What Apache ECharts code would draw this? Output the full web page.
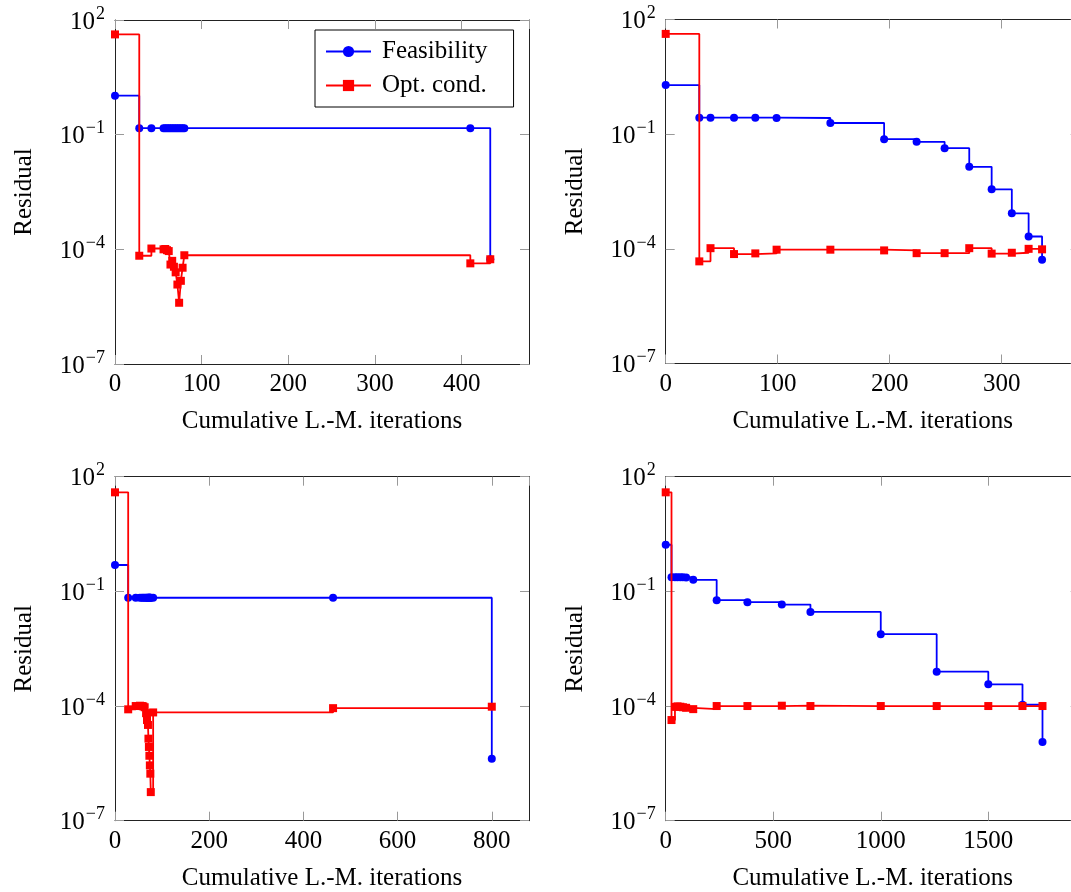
<!DOCTYPE html>
<html><head><meta charset="utf-8">
<script src="https://cdn.jsdelivr.net/npm/echarts@6/dist/echarts.min.js"></script>
<style>html,body{margin:0;padding:0;background:#fff}#c{width:1071px;height:892px}</style>
</head><body><div id="c"></div>
<script>
// ---------- data ----------
const seriesNames = ['Feasibility', 'Opt. cond.'];

// Panel A (top-left)
const xA    = [0, 28, 42, 56, 58, 60, 62, 64, 66, 68, 70, 72, 74, 76, 78, 80, 410, 433];
const feasA = [1.05, 0.148, 0.148, 0.148, 0.148, 0.148, 0.148, 0.148, 0.148, 0.148, 0.148, 0.148, 0.148, 0.148, 0.148, 0.148, 0.148, 5.5e-5];
const optA  = [42, 6.8e-5, 1.05e-4, 1.0e-4, 1.02e-4, 9.5e-5, 9.0e-5, 4.0e-5, 5.0e-5, 3.5e-5, 2.5e-5, 1.2e-5, 4.0e-6, 1.5e-5, 3.3e-5, 7.0e-5, 4.3e-5, 5.5e-5];

// Panel B (top-right)
const xB    = [0, 30, 40, 61, 80, 99, 147, 195, 224, 249, 271, 291, 309, 324, 336];
const feasB = [1.93, 0.27, 0.27, 0.27, 0.27, 0.265, 0.196, 0.074, 0.063, 0.043, 0.014, 0.0036, 8.5e-4, 2.1e-4, 5.2e-5];
const optB  = [42, 4.7e-5, 1.04e-4, 7.3e-5, 7.6e-5, 9.5e-5, 9.5e-5, 9.1e-5, 7.7e-5, 7.7e-5, 1.04e-4, 7.5e-5, 7.9e-5, 1.0e-4, 9.7e-5];

// Panel C (bottom-left)
const xC    = [0, 28, 44, 53, 57, 60, 63, 66, 68, 70, 71, 72, 73, 74, 75, 76, 81, 463, 800];
const feasC = [0.49, 0.068, 0.068, 0.068, 0.068, 0.068, 0.068, 0.068, 0.068, 0.068, 0.068, 0.068, 0.068, 0.068, 0.068, 0.068, 0.068, 0.068, 4.2e-6];
const optC  = [39, 8.2e-5, 1.0e-4, 1.02e-4, 1.0e-4, 9.8e-5, 9.3e-5, 6.5e-5, 4.3e-5, 3.2e-5, 1.4e-5, 8.5e-6, 5.0e-6, 2.8e-6, 1.7e-6, 5.6e-7, 6.8e-5, 8.8e-5, 9.6e-5];

// Panel D (bottom-right)
const xD    = [0, 27, 43, 55, 68, 80, 95, 128, 237, 380, 540, 673, 1000, 1260, 1500, 1659, 1752];
const feasD = [1.66, 0.235, 0.235, 0.235, 0.235, 0.235, 0.232, 0.2, 0.059, 0.052, 0.045, 0.029, 0.0076, 7.9e-4, 3.7e-4, 1.08e-4, 1.15e-5];
const optD  = [39, 4.3e-5, 9.5e-5, 9.8e-5, 9.6e-5, 9.3e-5, 9.0e-5, 8.3e-5, 1.0e-4, 1.0e-4, 1.02e-4, 1.0e-4, 1.0e-4, 1.0e-4, 1.0e-4, 1.0e-4, 1.0e-4];

// axis settings
const yMin = 1e-7, yMax = 1e2, yLogStep = 3;
const xMaxes = [477.7, 369.6, 879, 1925];
const xSteps = [100, 100, 200, 500];
const xTitle = 'Cumulative L.-M. iterations';
const yTitle = 'Residual';

// ---------- layout / style ----------
const FONT = '"Liberation Serif", serif';
const FS = 25;
const panels = [
  {left: 115,   top: 20,    x: xA, f: feasA, o: optA},
  {left: 665.7, top: 19.5,  x: xB, f: feasB, o: optB},
  {left: 115,   top: 476.7, x: xC, f: feasC, o: optC},
  {left: 665.7, top: 476.7, x: xD, f: feasD, o: optD}
];
const W = 414, H = 344;
const BLUE = '#0000ff', RED = '#ff0000';
const frame = {show: true, onZero: false, lineStyle: {color: '#222', width: 1}};
const tick = {show: true, inside: true, length: 9, lineStyle: {color: '#999', width: 1}};

function logLabel(v) {
  const e = Math.round(Math.log10(v));
  return '{b|10}{s|' + (e < 0 ? '\u2212' + (-e) : String(e)) + '}';
}
const rich = {
  b: {fontFamily: FONT, fontSize: FS, color: '#000', padding: [4, 0, 0, 0]},
  s: {fontFamily: FONT, fontSize: 18, color: '#000', padding: [0, 0, 12, 1]}
};

const grid = [], xAxis = [], yAxis = [], series = [];
panels.forEach((p, i) => {
  grid.push({left: p.left, top: p.top, width: W, height: H, containLabel: false, outerBoundsMode: 'none'});
  const xb = {
    type: 'value', gridIndex: i, min: 0, max: xMaxes[i], interval: xSteps[i], position: 'bottom',
    axisLine: frame, axisTick: tick, splitLine: {show: false},
    axisLabel: {fontFamily: FONT, fontSize: FS, color: '#000', margin: 8, showMaxLabel: false,
                formatter: (v) => String(v)},
    name: xTitle, nameLocation: 'middle', nameGap: 45,
    nameTextStyle: {fontFamily: FONT, fontSize: FS, color: '#000'}
  };
  const xt = {
    type: 'value', gridIndex: i, min: 0, max: xMaxes[i], interval: xSteps[i], position: 'top',
    axisLine: frame, axisTick: tick, splitLine: {show: false}, axisLabel: {show: false}
  };
  const yl = {
    type: 'log', logBase: 10, gridIndex: i, min: yMin, max: yMax, interval: yLogStep, position: 'left',
    axisLine: frame, axisTick: tick, minorTick: {show: false}, splitLine: {show: false},
    axisLabel: {formatter: logLabel, rich: rich, margin: 10},
    name: yTitle, nameLocation: 'middle', nameGap: 78,
    nameTextStyle: {fontFamily: FONT, fontSize: FS, color: '#000'}
  };
  const yr = {
    type: 'log', logBase: 10, gridIndex: i, min: yMin, max: yMax, interval: yLogStep, position: 'right',
    axisLine: frame, axisTick: tick, minorTick: {show: false}, splitLine: {show: false}, axisLabel: {show: false}
  };
  xAxis.push(xb, xt);
  yAxis.push(yl, yr);
  const mk = (vals) => p.x.map((xv, k) => [xv, vals[k]]);
  series.push({
    name: seriesNames[0], type: 'line', step: 'end', xAxisIndex: 2 * i, yAxisIndex: 2 * i,
    data: mk(p.f), symbol: 'circle', symbolSize: 8, showAllSymbol: true,
    lineStyle: {color: BLUE, width: 1.8}, itemStyle: {color: BLUE}, animation: false, z: 2
  });
  series.push({
    name: seriesNames[1], type: 'line', step: 'end', xAxisIndex: 2 * i, yAxisIndex: 2 * i,
    data: mk(p.o), symbol: 'rect', symbolSize: 8, showAllSymbol: true,
    lineStyle: {color: RED, width: 1.8}, itemStyle: {color: RED}, animation: false, z: 3
  });
});

const chart = echarts.init(document.getElementById('c'), null, {renderer: 'canvas'});
chart.setOption({
  backgroundColor: '#fff',
  animation: false,
  grid, xAxis, yAxis, series,
  legend: {
    data: seriesNames, left: 315, top: 30, orient: 'vertical', selectedMode: false,
    backgroundColor: '#fff', borderColor: '#000', borderWidth: 1, borderRadius: 0,
    padding: [9, 26, 9, 10], itemWidth: 45, itemHeight: 14, itemGap: 9,
    textStyle: {fontFamily: FONT, fontSize: FS, color: '#000', padding: [0, 0, 0, 6]}
  }
});
</script></body></html>
